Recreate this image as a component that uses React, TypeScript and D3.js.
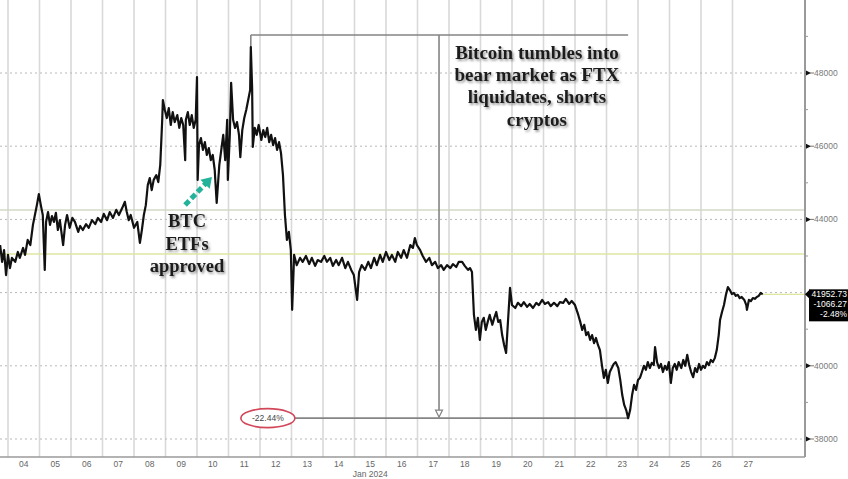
import React from 'react';
import * as d3 from 'd3';

const W = 848;
const H = 479;

// hours since 2024-01-03 00:00 UTC
const hours = [
  18, 19.5, 21, 22.5, 24, 25.5, 27, 29.5, 31.5, 33, 35.5, 37, 39, 41, 43, 44.5, 46, 47.5, 49, 50.5,
  52, 53, 54.5, 56, 57.5, 59, 60.5, 62, 63.5, 66, 67.5, 69, 71, 73, 75, 77.5, 79, 81, 83.5, 85.5,
  88, 90.5, 92.5, 95, 97, 99.5, 101.5, 104, 106.5, 108.5, 111, 113, 114.5, 116, 117.5, 120, 122.5, 124.5, 126, 127.5,
  129, 130.5, 132, 133.5, 135, 137, 138.5, 140, 141.5, 142, 143.5, 145, 146.5, 148, 149.5, 151, 153, 154.5, 156, 157.5,
  159, 159.5, 161, 162.5, 164, 165.5, 167, 168, 168.5, 169.5, 171, 172.5, 174, 175.5, 177, 178.5, 180, 181.5, 183, 185,
  186.5, 188, 189.5, 191, 191.5, 193, 194, 195.5, 197, 198.5, 200, 201, 202.5, 204, 205.5, 207, 208.5, 209, 210, 210.5,
  212, 213.5, 215, 217, 218.5, 220, 221.5, 223, 224.5, 226, 227.5, 229, 230.5, 232, 233.5, 235, 236.5, 238, 239.5, 240.5,
  242, 244, 246.5, 248.5, 251, 253.5, 255.5, 258, 260, 262.5, 265, 267, 269.5, 271.5, 274, 276, 278.5, 281, 283, 285.5,
  287.5, 290, 291.5, 293.5, 296, 298.5, 300.5, 303, 305, 307.5, 309.5, 312, 314.5, 316.5, 319, 321, 323.5, 325.5, 328, 330.5,
  332.5, 334, 335.5, 338, 340, 342.5, 345, 347, 349.5, 351.5, 354, 356, 358.5, 361, 363, 365.5, 367.5, 370, 372, 374.5,
  376, 377.5, 379, 380.5, 382, 383.5, 385, 386.5, 388, 389.5, 391, 393, 394.5, 396, 397.5, 399, 400.5, 402, 403.5, 405,
  406.5, 408, 410.5, 412.5, 415, 417, 419.5, 421.5, 424, 426.5, 428.5, 431, 433, 435.5, 437.5, 440, 442.5, 444.5, 447, 449,
  451.5, 453.5, 456, 458.5, 460, 461.5, 463, 464.5, 466, 467.5, 469, 470.5, 472, 473.5, 475, 476.5, 478, 479.5, 481, 482.5,
  484, 485.5, 487, 489, 490.5, 492, 493.5, 495, 496.5, 498, 499.5, 501, 502.5, 504, 505.5, 507, 508.5, 510, 511.5, 513,
  514.5, 516, 517, 518.5, 520, 521.5, 523, 524.5, 526, 527.5, 529, 530.5, 532, 533.5, 535, 537, 538.5, 540, 541.5, 543,
  544.5, 546, 547.5, 549, 550.5, 552, 553.5, 555, 556.5, 558, 559.5, 561, 562.5, 564, 565.5, 566.5, 568, 569.5, 571, 572.5,
  574, 575.5, 577, 578.5, 580, 581.5, 583, 585, 586.5, 587, 588.5, 590, 591.5, 593, 594.5, 596, 597.5, 599,
];

const prices = [
  43300, 42840, 43160, 42480, 43030, 42670, 42950, 42840, 43110, 42950, 43220, 43030, 43440, 43300, 43850, 44120, 44390, 44690, 44390, 44120,
  42620, 43930, 44200, 43850, 44090, 43930, 44180, 43710, 43980, 43300, 43850, 44120, 43770, 44040, 43930, 43660, 43820, 43710, 43870, 43770,
  43980, 43870, 44040, 43930, 44150, 43980, 44200, 44040, 44260, 44120, 44310, 44480, 44200, 43980, 44120, 43770, 43930, 43360, 43710, 44120,
  44390, 44940, 45130, 44800, 45080, 45210, 45020, 45490, 46720, 47260, 46990, 46770, 47040, 46580, 46930, 46660, 46850, 46500, 46770, 46580,
  45620, 46720, 46930, 46580, 46850, 46500, 46720, 47890, 45080, 46030, 46220, 45900, 46110, 45760, 45950, 45620, 45760, 45350, 44450, 45490,
  45900, 46310, 45620, 46720, 45080, 46310, 47730, 46720, 46500, 46660, 46310, 45700, 46440, 46770, 46990, 47260, 47540, 48710, 47590, 45980,
  46500, 46310, 46580, 46170, 46440, 46250, 46500, 46110, 46310, 46030, 46220, 45900, 46110, 45810, 45210, 44120, 43440, 43660, 43160, 41530,
  43030, 42750, 42950, 42840, 43000, 42780, 42950, 42730, 42890, 42840, 43000, 42840, 42950, 42730, 42890, 42750, 42950, 42670, 42840, 42620,
  42480, 41800, 42560, 42750, 42620, 42840, 42670, 42950, 42750, 43030, 42840, 43110, 42890, 43030, 42840, 43110, 42950, 43160, 42950, 43300,
  43220, 43490, 43300, 43160, 43000, 42840, 42950, 42750, 42840, 42670, 42750, 42620, 42750, 42670, 42780, 42700, 42840, 42840, 42730, 42620,
  42670, 42560, 41390, 40980, 41310, 40710, 41200, 41310, 40980, 41200, 41390, 41120, 41310, 41470, 41200, 41250, 40840, 40570, 40350, 41250,
  42130, 41660, 41580, 41720, 41630, 41740, 41610, 41690, 41580, 41720, 41660, 41800, 41690, 41740, 41630, 41720, 41630, 41740, 41720, 41830,
  41690, 41770, 41660, 41390, 41200, 40980, 41120, 40840, 40920, 40710, 40840, 40620, 40760, 40570, 40430, 40020, 39670, 39890, 39530, 39830,
  39940, 40050, 40100, 39940, 39610, 39200, 38930, 38790, 38570, 38790, 39200, 39480, 39340, 39610, 39670, 39830, 40000, 39890, 40100, 39940,
  40080, 40020, 40510, 40100, 39940, 40050, 39830, 40000, 39890, 40100, 39530, 39940, 40050, 39890, 40100, 39940, 40160, 40000, 40300, 40020,
  39830, 39690, 39940, 39830, 40050, 39890, 40000, 39940, 40100, 40020, 40160, 40100, 40210, 40430, 40840, 41250, 41470, 41660, 41940, 42150,
  42070, 41960, 41990, 41910, 41940, 41850, 41880, 41800, 41660, 41530, 41800, 41770, 41850, 41830, 41880, 41910, 41990, 41953,
];

const dayLabels = ['04', '05', '06', '07', '08', '09', '10', '11', '12', '13', '14', '15', '16', '17', '18', '19', '20', '21', '22', '23', '24', '25', '26', '27'];
const firstDay = 4;
const monthLabel = 'Jan 2024';
const yTicks = [38000, 40000, 42000, 44000, 46000, 48000];
const yMinorTicks = [39000, 41000, 43000, 45000, 47000, 49000];
const refLevels = [44257, 43055];
const lastPrice = 41952.73;
const netChange = -1066.27;
const pctChange = -2.48;
const drawdownLabel = '-22.44%';
const peak = { h: 209, v: 48710 };
const trough = { h: 496.5, v: 38570 };
const bracketTopValue = 49040;
const arrowHour = 352.4;
const headlineLines = ['Bitcoin tumbles into', 'bear market as FTX', 'liquidates, shorts', 'cryptos'];
const headlineAnchor = { h: 427, v: 48410 };
const etfLines = ['BTC', 'ETFs', 'approved'];
const etfAnchor = { h: 160.4, v: 43792 };
const etfArrow = { h1: 158.9, v1: 44393, h2: 179.4, v2: 45158 };
const ovalAnchor = { h: 222, v: 38570 };

const base = Date.UTC(2024, 0, 3);
const t = (h: number) => new Date(base + h * 3600e3);

export default function App() {
  const x = d3.scaleUtc().domain([t(0), t(25 * 24)]).range([-23.5, 764]);
  const y = d3.scaleLinear().domain([38000, 48000]).range([439, 73]);
  const axisX = 805;
  const bottomY = 457;

  const data = hours.map((h, i) => ({ d: t(h), v: prices[i] }));
  const line = d3.line<{ d: Date; v: number }>().x(p => x(p.d)).y(p => y(p.v));

  const dayStart = (i: number) => x(new Date(Date.UTC(2024, 0, firstDay + i)));
  const dayMid = (i: number) => x(new Date(Date.UTC(2024, 0, firstDay + i, 12)));

  const px = (h: number) => x(t(h));
  const lastX = px(hours[hours.length - 1]);
  const yLast = y(lastPrice);

  const serif = '"Liberation Serif", "DejaVu Serif", serif';
  const sans = '"Liberation Sans", Arial, sans-serif';

  const arrX = px(arrowHour);
  const ovalX = px(ovalAnchor.h);
  const ovalY = y(ovalAnchor.v);

  const a1x = px(etfArrow.h1), a1y = y(etfArrow.v1), a2x = px(etfArrow.h2), a2y = y(etfArrow.v2);
  const ang = Math.atan2(a2y - a1y, a2x - a1x);
  const hl = 10, hw = 6.5;
  const headPts = [
    [a2x, a2y],
    [a2x - hl * Math.cos(ang) + hw * Math.sin(ang), a2y - hl * Math.sin(ang) - hw * Math.cos(ang)],
    [a2x - hl * Math.cos(ang) - hw * Math.sin(ang), a2y - hl * Math.sin(ang) + hw * Math.cos(ang)],
  ];
  const shaftEndX = a2x - hl * 0.8 * Math.cos(ang);
  const shaftEndY = a2y - hl * 0.8 * Math.sin(ang);

  return (
    <svg width={W} height={H} style={{ position: 'absolute', left: 0, top: 0, display: 'block', background: '#fff' }}>
      <defs>
        <filter id="shadow" x="-10%" y="-30%" width="130%" height="170%">
          <feDropShadow dx="1.5" dy="1.8" stdDeviation="1.1" floodColor="#555" floodOpacity="0.65" />
        </filter>
        <clipPath id="plot">
          <rect x={0} y={0} width={axisX} height={bottomY} />
        </clipPath>
      </defs>
      <rect x={0} y={0} width={W} height={H} fill="#fff" />

      {/* vertical day grid */}
      {dayLabels.map((_, i) => (
        <line key={'vg' + i} x1={dayStart(i)} x2={dayStart(i)} y1={0} y2={bottomY} stroke="#d9d9d9" strokeWidth={1.6} />
      ))}

      {/* horizontal dotted grid */}
      {yTicks.map(v => (
        <line key={'hg' + v} x1={0} x2={axisX} y1={y(v)} y2={y(v)} stroke="#b8b8b8" strokeWidth={1} strokeDasharray="2,3" />
      ))}

      {/* reference levels */}
      <line x1={0} x2={axisX} y1={y(refLevels[0])} y2={y(refLevels[0])} stroke="#d3d9c6" strokeWidth={1.7} />
      <line x1={0} x2={axisX} y1={y(refLevels[1])} y2={y(refLevels[1])} stroke="#dfe6a2" strokeWidth={1.4} />
      <line x1={lastX} x2={axisX} y1={yLast} y2={yLast} stroke="#dfe6a2" strokeWidth={1.4} />

      {/* annotation bracket */}
      <g stroke="#858585" strokeWidth={1.6} fill="none">
        <line x1={px(peak.h)} x2={px(trough.h)} y1={y(bracketTopValue)} y2={y(bracketTopValue)} />
        <line x1={px(peak.h)} x2={px(peak.h)} y1={y(bracketTopValue)} y2={y(peak.v)} />
        <line x1={arrX} x2={arrX} y1={y(bracketTopValue)} y2={y(trough.v) - 1} />
        <line x1={ovalX + 27} x2={px(trough.h)} y1={y(trough.v)} y2={y(trough.v)} />
        <path d={`M${arrX - 3.5},${y(trough.v) - 8} L${arrX + 3.5},${y(trough.v) - 8} L${arrX},${y(trough.v) - 1} Z`} fill="#fff" strokeWidth={1.2} />
      </g>

      {/* price line */}
      <g clipPath="url(#plot)">
        <path d={line(data) || ''} fill="none" stroke="#111" strokeWidth={2.2} strokeLinejoin="round" />
      </g>

      {/* oval label */}
      <ellipse cx={ovalX} cy={ovalY} rx={27} ry={9.5} fill="#fff" stroke="#d2485a" strokeWidth={1.6} />
      <text x={ovalX} y={ovalY + 3} textAnchor="middle" fontFamily={sans} fontSize={8.5} fill="#444">{drawdownLabel}</text>

      {/* headline */}
      <g filter="url(#shadow)">
        {headlineLines.map((s, i) => (
          <text key={'hl' + i} x={px(headlineAnchor.h)} y={y(headlineAnchor.v) + 1 + i * 22.2} textAnchor="middle"
            fontFamily={serif} fontWeight="bold" fontSize={19} fill="#1b1b1b">{s}</text>
        ))}
        {etfLines.map((s, i) => (
          <text key={'etf' + i} x={px(etfAnchor.h)} y={y(etfAnchor.v) + i * 22.5} textAnchor="middle"
            fontFamily={serif} fontWeight="bold" fontSize={18.5} fill="#1b1b1b">{s}</text>
        ))}
      </g>

      {/* ETF arrow */}
      <line x1={a1x} y1={a1y} x2={shaftEndX} y2={shaftEndY} stroke="#22b39a" strokeWidth={5} strokeDasharray="6,3" />
      <polygon points={headPts.map(p => p.join(',')).join(' ')} fill="#22b39a" />

      {/* axes */}
      <line x1={0} x2={axisX} y1={bottomY} y2={bottomY} stroke="#9a9a9a" strokeWidth={1.5} />
      <line x1={axisX} x2={axisX} y1={0} y2={bottomY} stroke="#9a9a9a" strokeWidth={2} />

      {yMinorTicks.map(v => (
        <line key={'mt' + v} x1={axisX} x2={axisX + 3} y1={y(v)} y2={y(v)} stroke="#999" strokeWidth={1} />
      ))}
      {yTicks.map(v => (
        <g key={'yt' + v}>
          {v !== 42000 && (
            <>
              <path d={`M${axisX + 1},${y(v) - 2.5} L${axisX + 6},${y(v)} L${axisX + 1},${y(v) + 2.5} Z`} fill="#111" />
              <line x1={axisX + 5} x2={axisX + 9} y1={y(v)} y2={y(v)} stroke="#777" strokeWidth={1} />
              <text x={axisX + 9} y={y(v) + 3} fontFamily={sans} fontSize={8.5} fill="#7a7a7a">{v}</text>
            </>
          )}
        </g>
      ))}

      {/* last price box */}
      <path d={`M${axisX},${yLast} L${axisX + 5},${yLast - 5} L${axisX + 5},${yLast + 5} Z`} fill="#000" />
      <rect x={axisX + 4} y={yLast - 5} width={W - axisX - 4} height={32} fill="#000" />
      <g fontFamily={sans} fontSize={8.5} fill="#fff" textAnchor="end">
        <text x={W - 1} y={yLast + 3}>{lastPrice.toFixed(2)}</text>
        <text x={W - 1} y={yLast + 13}>{netChange.toFixed(2)}</text>
        <text x={W - 1} y={yLast + 23}>{pctChange.toFixed(2) + '%'}</text>
      </g>

      {/* x labels */}
      {dayLabels.map((s, i) => (
        <text key={'xl' + i} x={dayMid(i)} y={bottomY + 10} textAnchor="middle" fontFamily={sans} fontSize={8.5} fill="#666">{s}</text>
      ))}
      <text x={dayMid(11)} y={bottomY + 20} textAnchor="middle" fontFamily={sans} fontSize={8.5} fill="#666">{monthLabel}</text>
    </svg>
  );
}
